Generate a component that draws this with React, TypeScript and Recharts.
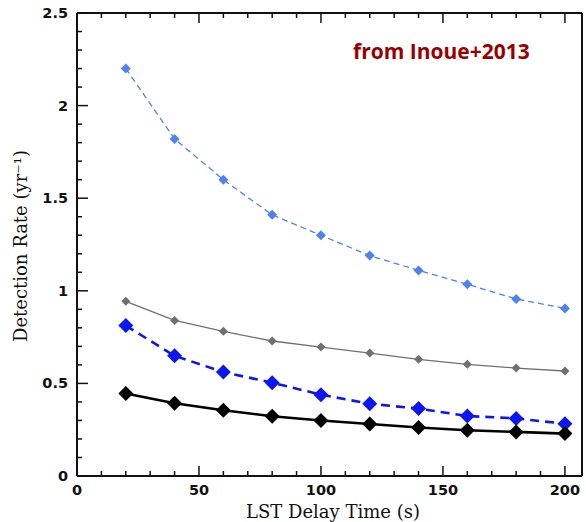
import { LineChart, Line, XAxis, YAxis } from "recharts";

// LST delay time (s)
const delays = [20, 40, 60, 80, 100, 120, 140, 160, 180, 200];

// detection rates (yr^-1)
const lightBlueRates = [2.2, 1.82, 1.6, 1.41, 1.3, 1.19, 1.11, 1.035, 0.956, 0.905];
const grayRates = [0.943, 0.84, 0.781, 0.729, 0.696, 0.664, 0.63, 0.603, 0.583, 0.567];
const blueRates = [0.812, 0.649, 0.561, 0.504, 0.439, 0.39, 0.364, 0.324, 0.311, 0.282];
const blackRates = [0.446, 0.393, 0.355, 0.323, 0.3, 0.281, 0.262, 0.247, 0.238, 0.229];

const xTicks = [0, 10, 20, 30, 40, 50, 60, 70, 80, 90, 100, 110, 120, 130, 140, 150, 160, 170, 180, 190, 200];
const yTicks = [
  0, 0.1, 0.2, 0.3, 0.4, 0.5, 0.6, 0.7, 0.8, 0.9, 1, 1.1, 1.2, 1.3, 1.4, 1.5, 1.6, 1.7, 1.8, 1.9, 2, 2.1,
  2.2, 2.3, 2.4, 2.5,
];

const data = delays.map((t, i) => ({
  t,
  lightBlue: lightBlueRates[i],
  gray: grayRates[i],
  blue: blueRates[i],
  black: blackRates[i],
}));

const isMajorX = (v: number) => v % 50 === 0;
const isMajorY = (v: number) => Math.abs(v * 2 - Math.round(v * 2)) < 1e-6;

const tickFont = "'DejaVu Sans', sans-serif";
const titleFont = "'DejaVu Serif', serif";

const BottomTick = (props: any) => {
  const { x, y, payload } = props;
  const major = isMajorX(payload.value);
  return (
    <g>
      <line x1={x} x2={x} y1={y} y2={y - (major ? 10 : 5)} stroke="#111" strokeWidth={1.5} />
      {major && (
        <text x={x} y={y + 19} textAnchor="middle" fontFamily={tickFont} fontWeight="bold" fontSize={14.5} fill="#111">
          {payload.value}
        </text>
      )}
    </g>
  );
};

const TopTick = (props: any) => {
  const { x, y, payload } = props;
  const major = isMajorX(payload.value);
  return <line x1={x} x2={x} y1={y} y2={y + (major ? 10 : 5)} stroke="#111" strokeWidth={1.5} />;
};

const LeftTick = (props: any) => {
  const { x, y, payload } = props;
  const major = isMajorY(payload.value);
  return (
    <g>
      <line x1={x} x2={x + (major ? 11 : 5)} y1={y} y2={y} stroke="#111" strokeWidth={1.5} />
      {major && (
        <text x={x - 9} y={y + 5} textAnchor="end" fontFamily={tickFont} fontWeight="bold" fontSize={14.5} fill="#111">
          {payload.value}
        </text>
      )}
    </g>
  );
};

const RightTick = (props: any) => {
  const { x, y, payload } = props;
  const major = isMajorY(payload.value);
  return <line x1={x} x2={x - (major ? 11 : 5)} y1={y} y2={y} stroke="#111" strokeWidth={1.5} />;
};

const diamond = (r: number, color: string) => (props: any) => {
  const { cx, cy, index } = props;
  if (cx == null || cy == null) return <g key={index} />;
  return (
    <path
      key={index}
      d={`M${cx},${cy - r}L${cx + r},${cy}L${cx},${cy + r}L${cx - r},${cy}Z`}
      fill={color}
      stroke="none"
    />
  );
};

export default function App() {
  return (
    <div style={{ position: "relative", width: 586, height: 522, background: "#fff" }}>
      <style>{`body { margin: 0; }`}</style>
      <LineChart width={586} height={522} data={data} margin={{ top: 12, right: 3, bottom: 0, left: 0 }}>
        <XAxis
          dataKey="t"
          type="number"
          domain={[0, 207]}
          ticks={xTicks}
          interval={0}
          height={46}
          tickSize={0}
          tickMargin={0}
          tickLine={false}
          axisLine={{ stroke: "#111", strokeWidth: 2 }}
          tick={BottomTick}
          label={{
            content: () => (
              <text x={333} y={518} textAnchor="middle" fontFamily={titleFont} fontSize={18} fill="#111">
                LST Delay Time (s)
              </text>
            ),
          }}
        />
        <XAxis
          xAxisId="top"
          dataKey="t"
          type="number"
          orientation="top"
          domain={[0, 207]}
          ticks={xTicks}
          interval={0}
          height={1}
          tickSize={0}
          tickMargin={0}
          tickLine={false}
          axisLine={{ stroke: "#111", strokeWidth: 2 }}
          tick={TopTick}
        />
        <YAxis
          type="number"
          domain={[0, 2.5]}
          ticks={yTicks}
          interval={0}
          width={77}
          tickSize={0}
          tickMargin={0}
          tickLine={false}
          axisLine={{ stroke: "#111", strokeWidth: 2 }}
          tick={LeftTick}
          label={{
            content: () => (
              <text
                x={27}
                y={246}
                transform="rotate(-90 27 246)"
                textAnchor="middle"
                fontFamily={titleFont}
                fontSize={18}
                fill="#111"
              >
                Detection Rate (yr⁻¹)
              </text>
            ),
          }}
        />
        <YAxis
          yAxisId="right"
          type="number"
          orientation="right"
          domain={[0, 2.5]}
          ticks={yTicks}
          interval={0}
          width={1}
          tickSize={0}
          tickMargin={0}
          tickLine={false}
          axisLine={{ stroke: "#111", strokeWidth: 2 }}
          tick={RightTick}
        />

        {/* light blue dashed, small diamonds */}
        <Line
          dataKey="lightBlue"
          type="linear"
          stroke="#4f82f0"
          strokeWidth={1.3}
          strokeDasharray="6 4"
          dot={diamond(5, "#4f82f0")}
          activeDot={false}
          isAnimationActive={false}
        />
        {/* gray solid, small diamonds */}
        <Line
          dataKey="gray"
          type="linear"
          stroke="#707070"
          strokeWidth={1.3}
          dot={diamond(4.5, "#707070")}
          activeDot={false}
          isAnimationActive={false}
        />
        {/* blue thick dashed, big diamonds */}
        <Line
          dataKey="blue"
          type="linear"
          stroke="#0c16f0"
          strokeWidth={2.6}
          strokeDasharray="9 6"
          dot={diamond(7.5, "#0c16f0")}
          activeDot={false}
          isAnimationActive={false}
        />
        {/* black thick solid, big diamonds */}
        <Line
          dataKey="black"
          type="linear"
          stroke="#000"
          strokeWidth={2.6}
          dot={diamond(7.5, "#000")}
          activeDot={false}
          isAnimationActive={false}
        />
      </LineChart>
      <div
        style={{
          position: "absolute",
          left: 353,
          top: 37,
          fontFamily: "'Open Sans', sans-serif",
          fontWeight: 700,
          fontSize: 21,
          color: "#9a0000",
          whiteSpace: "nowrap",
        }}
      >
        from Inoue+2013
      </div>
    </div>
  );
}
